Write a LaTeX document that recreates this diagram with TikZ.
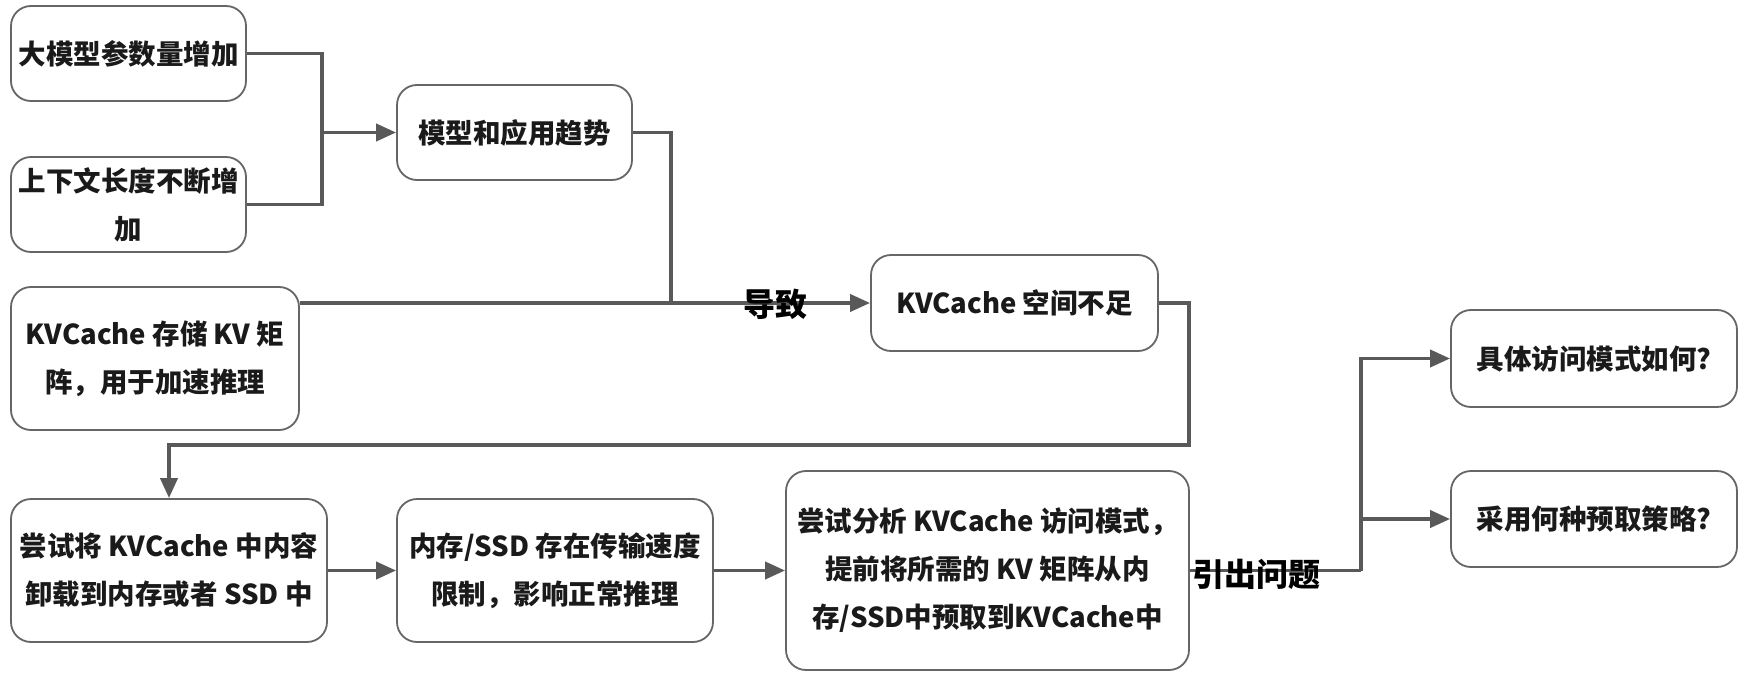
\documentclass[tikz,border=0pt]{standalone}
\usepackage{fontspec}
\newfontfamily\cjk{Noto Sans CJK SC}
\usetikzlibrary{arrows.meta}
\definecolor{linec}{HTML}{595959}
\definecolor{boxc}{HTML}{666666}
\definecolor{txtc}{HTML}{1A1A1A}
\tikzset{
  box/.style={draw=boxc, line width=1.8pt, rounded corners=20pt, align=center,
    text=txtc, inner sep=0pt, font=\cjk\bfseries\fontsize{27.5}{48}\selectfont},
  conn/.style={draw=linec, line width=3.8pt},
  arr/.style={conn, -{Triangle[length=20pt,width=17pt]}},
  lbl/.style={text=black, inner sep=0pt, font=\cjk\bfseries\fontsize{32}{38}\selectfont}
}
\begin{document}
\begin{tikzpicture}[x=1pt,y=-1pt]
\fill[white] (0,0) rectangle (1754,674);
\useasboundingbox (0,0) rectangle (1754,674);

\node[box, minimum width=235pt, minimum height=95pt] (A) at (128.5,53.5) {大模型参数量增加};
\node[box, minimum width=235pt, minimum height=95pt] (B) at (128.5,204.5) {上下文长度不断增\\加};
\node[box, minimum width=235pt, minimum height=95pt] (C) at (514.5,132.5) {模型和应用趋势};
\node[box, minimum width=288pt, minimum height=143pt] (D) at (155,358.5) {KVCache 存储 KV 矩\\阵，用于加速推理};
\node[box, minimum width=287pt, minimum height=96pt] (E) at (1014.5,303) {KVCache 空间不足};
\node[box, minimum width=316pt, minimum height=143pt] (F) at (169,570.5) {尝试将 KVCache 中内容\\卸载到内存或者 SSD 中};
\node[box, minimum width=316pt, minimum height=143pt] (G) at (555,570.5) {内存/SSD 存在传输速度\\限制，影响正常推理};
\node[box, minimum width=403pt, minimum height=199pt] (H) at (987.5,570.5) {尝试分析 KVCache 访问模式，\\提前将所需的 KV 矩阵从内\\存/SSD中预取到KVCache中};
\node[box, minimum width=286pt, minimum height=97pt] (I) at (1594,358.5) {具体访问模式如何?};
\node[box, minimum width=286pt, minimum height=96pt] (J) at (1594,519) {采用何种预取策略?};

\coordinate (j1) at (322,132.5);
\coordinate (j2) at (671,303);
\coordinate (e1) at (1189,445);
\coordinate (j3) at (1361,570.5);

\draw[conn] (A.east) -| (j1) |- (B.east);
\draw[arr] (j1) -- (C.west);
\draw[conn] (C.east) -| (j2);
\draw[arr] (D.east |- E.west) -- (E.west);
\draw[arr] (E.east) -| (e1) -| (F.north);
\draw[arr] (F.east) -- (G.west);
\draw[arr] (G.east) -- (H.west);
\draw[conn] (H.east) -- (j3);
\draw[arr] (j3) |- (I.west);
\draw[arr] (j3) |- (J.west);

\node[lbl] (l1) at (775,304) {导致};
\node[lbl] (l2) at (1256,574) {引出问题};
\end{tikzpicture}
\end{document}
